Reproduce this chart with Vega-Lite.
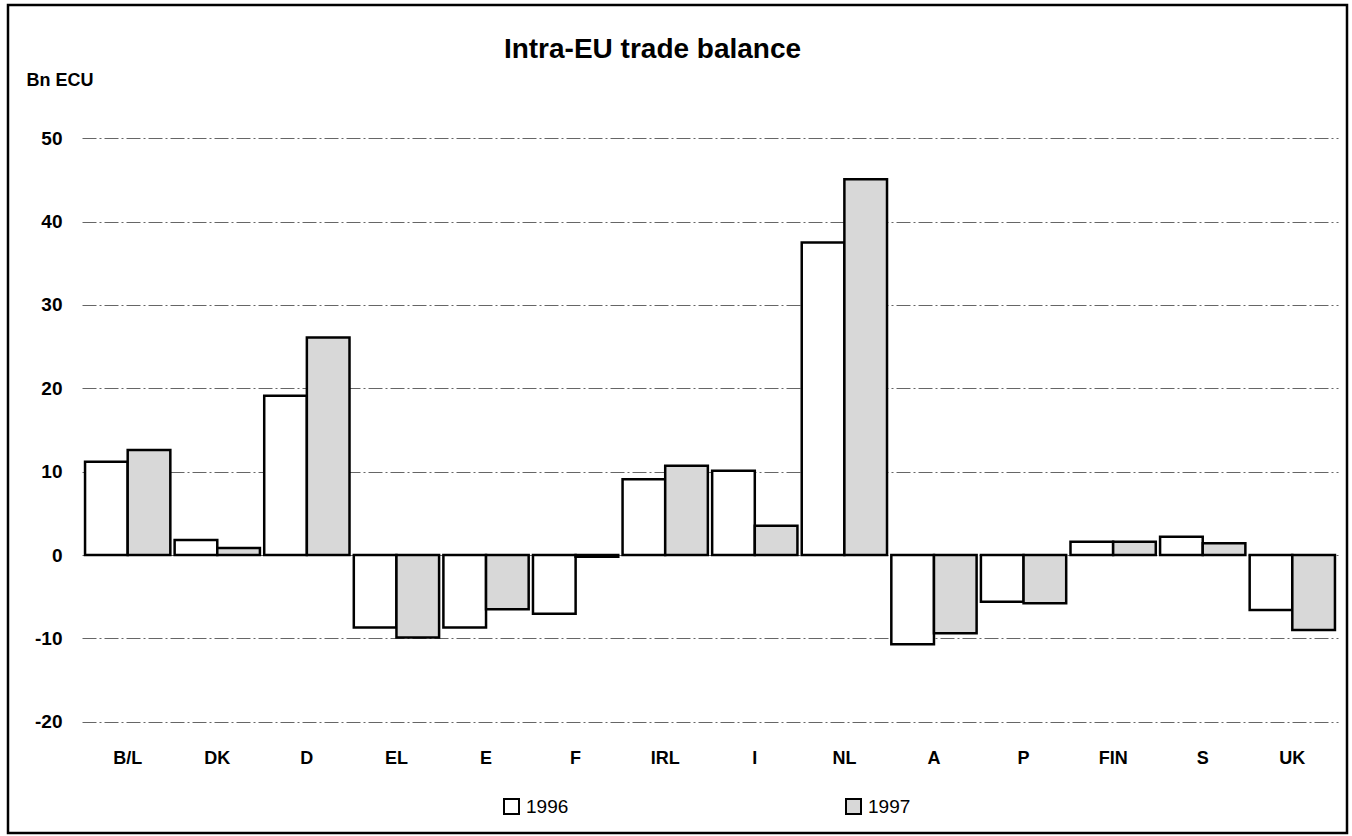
{
  "$schema": "https://vega.github.io/schema/vega-lite/v6.json",
  "width": 1339,
  "height": 828,
  "autosize": {"type": "none"},
  "padding": {"left": 8, "top": 5, "right": 5, "bottom": 3},
  "background": "white",
  "config": {
    "view": {"stroke": "black", "strokeWidth": 2.5},
    "font": "Liberation Sans"
  },
  "title": {
    "text": "Intra-EU trade balance",
    "fontSize": 28,
    "fontWeight": "bold",
    "font": "Liberation Sans",
    "color": "black",
    "anchor": "middle",
    "frame": "group",
    "baseline": "middle",
    "offset": -73,
    "dx": -25
  },
  "data": {
    "values": [
      {"country": "B/L", "year": "1996", "value": 11.2},
      {"country": "B/L", "year": "1997", "value": 12.6},
      {"country": "DK", "year": "1996", "value": 1.8},
      {"country": "DK", "year": "1997", "value": 0.85},
      {"country": "D", "year": "1996", "value": 19.1},
      {"country": "D", "year": "1997", "value": 26.1},
      {"country": "EL", "year": "1996", "value": -8.7},
      {"country": "EL", "year": "1997", "value": -9.9},
      {"country": "E", "year": "1996", "value": -8.7},
      {"country": "E", "year": "1997", "value": -6.5},
      {"country": "F", "year": "1996", "value": -7.05},
      {"country": "F", "year": "1997", "value": -0.2},
      {"country": "IRL", "year": "1996", "value": 9.1},
      {"country": "IRL", "year": "1997", "value": 10.7},
      {"country": "I", "year": "1996", "value": 10.1},
      {"country": "I", "year": "1997", "value": 3.5},
      {"country": "NL", "year": "1996", "value": 37.5},
      {"country": "NL", "year": "1997", "value": 45.1},
      {"country": "A", "year": "1996", "value": -10.7},
      {"country": "A", "year": "1997", "value": -9.4},
      {"country": "P", "year": "1996", "value": -5.6},
      {"country": "P", "year": "1997", "value": -5.8},
      {"country": "FIN", "year": "1996", "value": 1.6},
      {"country": "FIN", "year": "1997", "value": 1.6},
      {"country": "S", "year": "1996", "value": 2.2},
      {"country": "S", "year": "1997", "value": 1.4},
      {"country": "UK", "year": "1996", "value": -6.6},
      {"country": "UK", "year": "1997", "value": -9.0}
    ]
  },
  "mark": {"type": "bar", "stroke": "black", "strokeWidth": 2.5},
  "encoding": {
    "x": {
      "field": "country",
      "type": "nominal",
      "sort": ["B/L", "DK", "D", "EL", "E", "F", "IRL", "I", "NL", "A", "P", "FIN", "S", "UK"],
      "scale": {"range": [74, 1330], "paddingInner": 0.048, "paddingOuter": 0.034},
      "axis": {
        "title": null,
        "orient": "bottom",
        "offset": -111,
        "labelPadding": 27,
        "labelAngle": 0,
        "labelFontSize": 18,
        "labelFontWeight": "bold",
        "labelColor": "black",
        "ticks": false,
        "domain": false,
        "grid": false
      }
    },
    "xOffset": {
      "field": "year",
      "type": "nominal",
      "scale": {"paddingInner": 0, "paddingOuter": 0}
    },
    "y": {
      "field": "value",
      "type": "quantitative",
      "scale": {"domain": [-20, 50], "range": [716.7, 133.3], "nice": false},
      "axis": {
        "title": "Bn ECU",
        "titleAngle": 0,
        "titleAlign": "left",
        "titleBaseline": "middle",
        "titleX": -56,
        "titleY": 75,
        "titleFontSize": 18,
        "titleFontWeight": "bold",
        "titleColor": "black",
        "values": [-20, -10, 0, 10, 20, 30, 40, 50],
        "labelExpr": "'' + datum.value",
        "offset": -74,
        "labelPadding": 20,
        "labelFontSize": 19,
        "labelFontWeight": "bold",
        "labelColor": "black",
        "ticks": false,
        "domain": false,
        "grid": true,
        "gridColor": "#666666",
        "gridDash": [14, 3, 2, 3],
        "gridWidth": 1
      }
    },
    "fill": {
      "field": "year",
      "type": "nominal",
      "scale": {"domain": ["1996", "1997"], "range": ["white", "#d8d8d8"]},
      "legend": {
        "title": null,
        "orient": "none",
        "legendX": 494,
        "legendY": 792,
        "direction": "horizontal",
        "columns": 2,
        "columnPadding": 273,
        "symbolType": "square",
        "symbolSize": 225,
        "symbolStrokeColor": "black",
        "symbolStrokeWidth": 2,
        "labelFontSize": 19,
        "labelColor": "black",
        "labelOffset": 5,
        "padding": 0
      }
    }
  }
}
